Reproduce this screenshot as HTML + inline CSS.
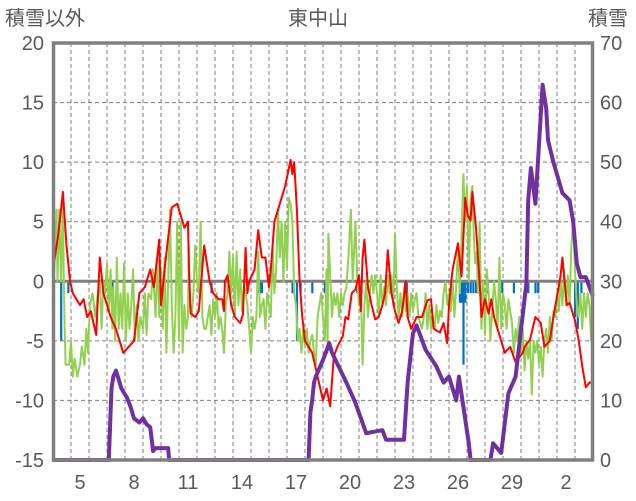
<!DOCTYPE html>
<html><head><meta charset="utf-8">
<style>
body{margin:0;background:#fff;}
svg{display:block;font-family:"Liberation Sans","Noto Sans CJK JP",sans-serif;}
</style></head>
<body>
<svg id="chart" width="636" height="501" viewBox="0 0 636 501" xmlns="http://www.w3.org/2000/svg">
<text x="5" y="25" font-size="20" fill="#595959">積雪以外</text>
<text x="318" y="25" font-size="20" fill="#595959" text-anchor="middle">東中山</text>
<text x="588" y="25" font-size="20" fill="#595959">積雪</text>
<g id="grid"></g>
<g id="ticks"></g>
<g id="series"></g>
<rect x="53.5" y="43" width="539" height="417" fill="none" stroke="#808080" stroke-width="3.5"/>
</svg>
<script>
const leftTicks=[20,15,10,5,0,-5,-10,-15];
const rightTicks=[70,60,50,40,30,20,10,0];
const dayLabels=["5","8","11","14","17","20","23","26","29","2"];
const dayLabelPos=[1,4,7,10,13,16,19,22,25,28];
const nDays=30;

const redT=[0,0.3,0.55,0.75,0.95,1.1,1.5,1.7,1.9,2.1,2.4,2.6,2.8,3.0,3.2,3.5,3.9,4.2,4.5,4.8,5.1,5.4,5.6,5.9,6.0,6.2,6.4,6.6,6.9,7.3,7.5,7.55,7.65,7.9,8.1,8.4,8.7,8.9,9.2,9.4,9.5,9.55,9.7,9.9,10.1,10.4,10.55,10.7,10.8,10.9,11.2,11.4,11.6,11.8,12.0,12.1,12.3,12.6,12.9,13.2,13.3,13.4,13.55,13.7,13.85,14.0,14.2,14.4,14.55,14.7,15.0,15.2,15.4,15.6,15.8,16.1,16.25,16.4,16.6,16.8,17.0,17.1,17.2,17.3,17.5,17.7,17.9,18.1,18.3,18.45,18.6,18.8,19.0,19.2,19.4,19.6,19.7,19.9,20.2,20.5,20.8,21.0,21.15,21.5,21.7,21.9,22.0,22.2,22.5,22.7,22.9,23.05,23.2,23.3,23.5,23.7,23.8,24.0,24.2,24.35,24.5,24.8,25.1,25.4,25.7,26.1,26.2,26.5,26.8,27.1,27.3,27.6,27.8,28.0,28.2,28.3,28.45,28.55,28.7,29.0,29.2,29.4,29.6,29.8,30];
const redV=[1,4,7.5,3,0,-1,-2,-1.5,-3,-2.5,-4.5,2,-1,-2,-3,-4,-6,-5.5,-5,-1,-0.5,1,-0.5,3.5,-2,1,3.7,6.2,6.5,4.5,5,1,-2.7,-3,-2.5,3,0,-1,-1.5,-1.5,-2.5,0,0.5,-2,-3,-3.5,-2.8,2.8,-1,0,1,4.3,2,2,-0.5,1,5,6.5,8,10.2,9,10,6,0,-3,-5,-5.5,-6,-7,-8,-10,-9,-10.5,-6.3,-5.5,-4.6,-3,-3.2,-1,-0.7,0.5,-2.5,2,3.5,-0.5,-2,-3.2,-3,-2,-1,2.6,-1,-2.5,-3.5,-2.5,0,-3,-4,-3,-3,-1.6,-1.5,-4,-4.3,-3.5,-5.2,-2,1,3.2,0.4,7,5.5,5.1,7.5,4.5,0,-3,-1.5,-2.7,-1.5,-3,-4.5,-6,-5.5,-6.8,-6,-5.5,-4.9,-3,-3.5,-5.5,-5,-3,-1.3,0.5,2,-0.5,-2,-1.8,-3.3,-4.9,-7.1,-8.9,-8.5,-8.5];

const greenT=[0,0.1,0.2,0.25,0.35,0.45,0.55,0.6,0.65,0.7,0.9,1.0,1.1,1.2,1.35,1.5,1.6,1.75,1.85,1.95,2.05,2.2,2.35,2.5,2.6,2.7,2.8,2.9,3.0,3.1,3.2,3.3,3.35,3.45,3.55,3.65,3.75,3.85,3.95,4.05,4.15,4.25,4.35,4.45,4.55,4.65,4.75,4.85,5.0,5.1,5.2,5.3,5.45,5.55,5.7,5.8,5.9,6.0,6.1,6.2,6.3,6.4,6.5,6.6,6.7,6.8,6.9,7.0,7.1,7.2,7.3,7.4,7.5,7.55,7.6,7.7,7.8,7.9,8.0,8.1,8.2,8.3,8.4,8.5,8.6,8.7,8.8,8.9,9.0,9.1,9.2,9.3,9.4,9.5,9.6,9.7,9.8,9.9,10.0,10.1,10.2,10.3,10.4,10.5,10.6,10.7,10.8,10.9,11.0,11.1,11.2,11.3,11.4,11.5,11.6,11.7,11.8,11.9,12.0,12.1,12.2,12.3,12.4,12.5,12.6,12.7,12.8,12.9,13.0,13.1,13.2,13.3,13.4,13.5,13.6,13.7,13.8,13.9,14.0,14.1,14.2,14.3,14.4,14.5,14.6,14.7,14.8,14.9,15.0,15.1,15.2,15.25,15.3,15.5,15.6,15.7,15.8,15.9,16.0,16.1,16.2,16.3,16.45,16.55,16.65,16.8,16.9,17.0,17.1,17.2,17.3,17.4,17.5,17.6,17.7,17.8,17.9,18.0,18.1,18.2,18.3,18.4,18.5,18.6,18.7,18.8,18.9,19.0,19.1,19.2,19.3,19.4,19.5,19.6,19.7,19.8,19.9,20.0,20.1,20.2,20.3,20.5,20.6,20.7,20.8,20.9,21.0,21.1,21.2,21.3,21.4,21.5,21.6,21.7,21.8,21.9,22.0,22.1,22.2,22.3,22.4,22.5,22.6,22.7,22.8,22.9,23.0,23.1,23.2,23.3,23.35,23.45,23.55,23.6,23.7,23.8,23.9,24.0,24.1,24.2,24.3,24.4,24.5,24.6,24.7,24.8,24.9,25.0,25.1,25.2,25.3,25.4,25.5,25.6,25.7,25.8,25.9,26.0,26.1,26.2,26.3,26.4,26.5,26.6,26.7,26.8,26.9,27.0,27.1,27.2,27.3,27.4,27.5,27.6,27.7,27.8,27.9,28.0,28.1,28.2,28.3,28.4,28.5,28.6,28.7,28.8,28.9,29.0,29.1,29.2,29.3,29.4,29.5,29.6,29.7,29.8,29.9,30];
const greenV=[-1,2,6,0,6,0,7,0,-4,-7,-7,-5,-8,-6.5,-8,-7,-5.5,-7,-4,-6,-2,-1,-3,-1,0,-4,0,-1,1.5,-2.5,1,-4,-0.5,-5,2,-4,-1,-4,1.5,-5,-1,-4,-2,1,-5,-2,-5,-3,-4,-1,-4.5,-1,-1.5,1,-3,2,-3,1,-4,2,-6,0,6,-2,-6,-3,5,-5,5,-6,-2,-4,-3,3,-2,-3,-1,3,0,-1,5,-3,-4,-4,-3,-2,-4.5,-1.5,-3,-1,-4,-3,-4,-6,-2,-1,2.5,-1,2,-3,2.5,-2,1,-2.5,-0.5,-1,-2,-4,-6,-3,-4,-3,2.5,-3,-2,-1.5,-4,-1,-2,-3,3,-1,1,6,2,5,0,5,1,7,6.5,5,-1,-2,-5,-4,-6,-4,-5.5,-4,-6,-5,-4.5,-6,-7,-3,-2,-1,-3,-5,1,-6,4,-3,-1,-2,-1,-3,-1,-2,-1,-0.5,3,6,0,5,0.5,-2,-0.5,-7,-2,0,-3,-1,0.5,-1,0.5,-1,-3,0.5,-2,-0.5,-2,0.5,-1,0.5,-2,4,-0.5,-3,-1,-3,-0.5,-2.5,-1,-3,-1,-2.5,-1.5,-1,-3,-4,-3,-1,-4,-2,-4,-3,-4,-2,-3.5,-2.5,-3,-1,0,-2,-1,-2.5,0,-3,-0.5,3,-1,4,9,5,8,0,7,8,5,1.5,2.5,-1,5,-4,0,-4.5,1,-1,-5,-2.5,0,-1.5,-4,2,-4,-1,-2,-4,-1.5,-2.5,-3.5,-6,-4,-5,-3,-6,-4,-7.5,-5,-6.5,-5,-9.5,-5,-6,-5,-7,-5.5,-8,-5,-4,-6,-3,-5,-2.5,-3,-1,-2.5,0,-2,1,-2,0.5,-2,3,5,1,-2,-3,-1,-4,-1,-3,-1,-2,-5,-3.5];

const snowT=[0,3.1,3.25,3.35,3.5,3.6,3.8,4.1,4.3,4.5,4.8,5.0,5.2,5.4,5.56,5.7,6.4,6.45,14.2,14.3,14.4,14.5,14.6,15.0,15.35,15.5,16.3,16.8,17.4,18.3,18.5,19.5,19.7,20.0,20.2,20.7,21.3,21.7,22.0,22.4,22.55,23.1,23.2,24.3,24.45,24.9,25.3,25.7,26.3,26.4,26.55,26.8,27.2,27.4,27.5,27.8,28.3,28.7,28.9,29.1,29.3,29.6,29.9,30];
const snowV=[0,0,12,14,15,14,12,10.5,9,7,6.3,7,6,5.5,1.5,2,2,0,0,8,10,13,14,16.8,19.6,18,13,9.6,4.5,5,3.4,3.4,13,21.3,22.6,18.5,15.7,13,14,10,14,2.8,0,0,2.8,1.2,11.2,14,29.7,43.6,49,43,63,59,53.7,50,44.8,43.6,40,33,30.7,30.7,28.2,27.5];

const precipT=[0.45,0.85,3.3,8.8,11.4,11.5,11.6,13.3,13.55,13.75,14.4,15.1,16.9,19.55,19.65,22.6,22.7,22.8,22.9,23.05,23.2,23.35,23.5,24.15,24.95,25.6,26.4,26.8,26.95,29.0,29.15,29.35];
const precipV=[-5,-1,-2,-1,-1,-1,-1,-1,-5,-1,-1,-1,-1,-1,-1.5,-1.8,-1.8,-7,-1.8,-1,-1,-1,-1,-1,-1,-1,-1,-1,-1,-3,-4,-1];

const X0=53,X1=593,YT=43,YB=460;
const xs=t=>X0+(X1-X0)*t/nDays;
const yL=v=>YB-(v+15)*(YB-YT)/35;
const yR=v=>YB-v*(YB-YT)/70;
const NS="http://www.w3.org/2000/svg";
function mk(tag,attrs,parent){const e=document.createElementNS(NS,tag);for(const k in attrs)e.setAttribute(k,attrs[k]);parent.appendChild(e);return e;}
const grid=document.getElementById('grid'),ticks=document.getElementById('ticks'),series=document.getElementById('series');
for(let d=1;d<nDays;d++){
  const l=mk('line',{x1:xs(d),x2:xs(d),y1:YT,y2:YB,stroke:'#7f7f7f','stroke-width':1,'stroke-dasharray':'4,3'},grid);
  
  
}
leftTicks.forEach(v=>{
  if(v!==0&&v!==20&&v!==-15){const l=mk('line',{x1:X0,x2:X1,y1:yL(v),y2:yL(v),stroke:'#7f7f7f','stroke-width':1,'stroke-dasharray':'4,3'},grid);
  
  }
  const t=mk('text',{x:44,y:yL(v)+7,'font-size':20,fill:'#595959','text-anchor':'end'},ticks);t.textContent=v;
  
  
});
rightTicks.forEach(v=>{
  const t=mk('text',{x:600,y:yR(v)+7,'font-size':20,fill:'#595959'},ticks);t.textContent=v;
  
  
});
dayLabels.forEach((s,i)=>{
  const t=mk('text',{x:xs(dayLabelPos[i]+0.5),y:489,'font-size':20,fill:'#595959','text-anchor':'middle'},ticks);t.textContent=s;
  
  
});
precipT.forEach((t,i)=>{
  const y0=yL(0),y1=yL(precipV[i]);
  const r=mk('rect',{x:xs(t)-1,y:y0,width:2.2,height:y1-y0,fill:'#0070c0'},series);
  
  
});
const zl=mk('line',{x1:X0,x2:X1,y1:yL(0),y2:yL(0),stroke:'#808080','stroke-width':3},series);


function path(T,V,yf,color,w,name){
  const d=T.map((t,i)=>(i?'L':'M')+xs(t).toFixed(1)+','+yf(V[i]).toFixed(1)).join('');
  const p=mk('path',{d:d,fill:'none',stroke:color,'stroke-width':w,'stroke-linejoin':'round'},series);
  
  
}
path(greenT,greenV,yL,'#92d050',2,'green-series-line');
path(redT,redV,yL,'#ff0000',2,'temperature-line');
path(snowT,snowV,yR,'#7030a0',4,'snow-depth-line');
</script>
</body></html>
